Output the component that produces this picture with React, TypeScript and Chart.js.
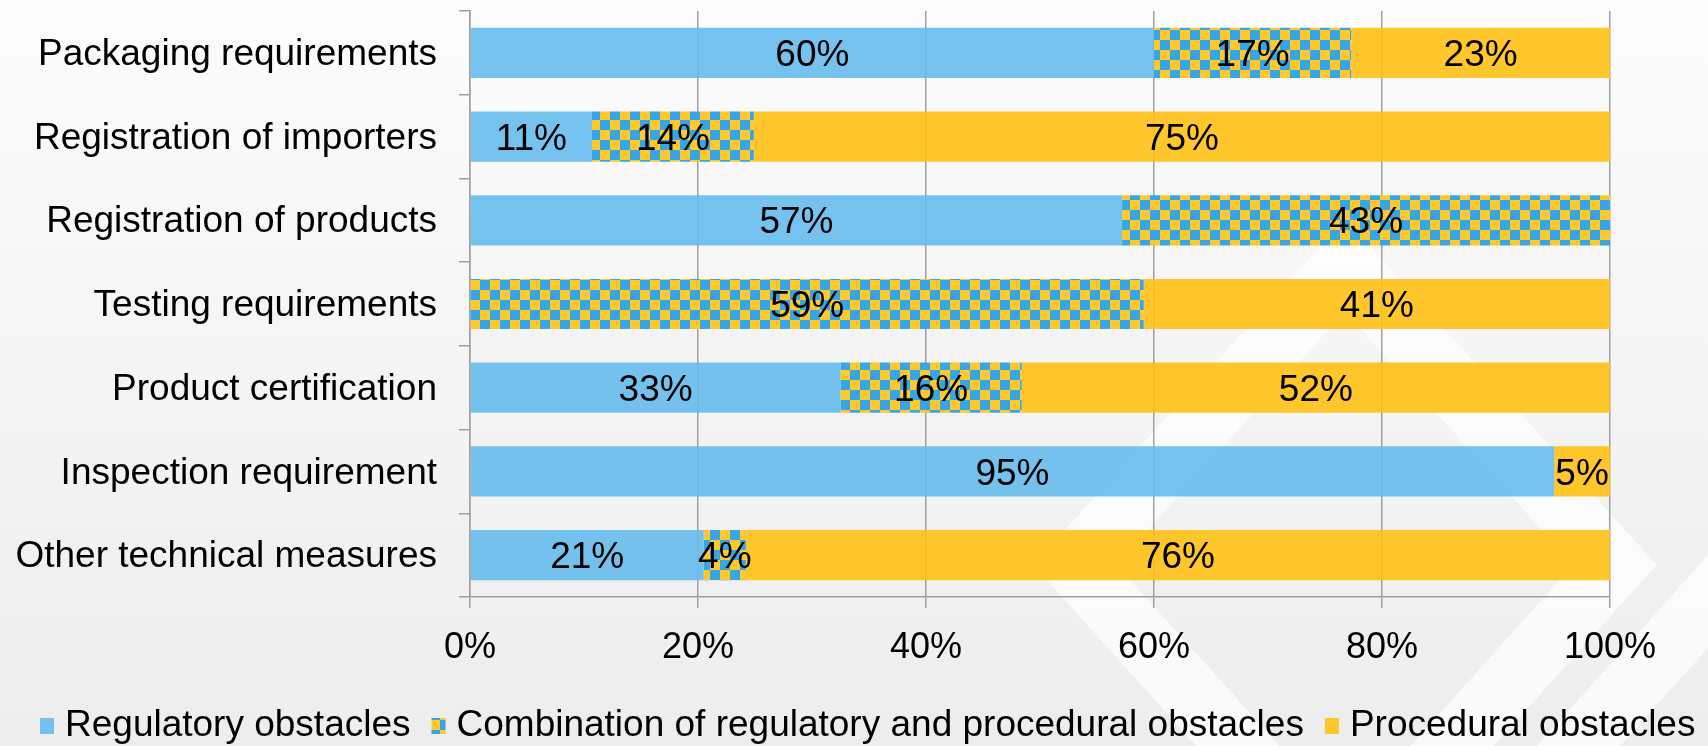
import React, { useEffect, useRef } from 'react';
import { Chart, registerables } from 'chart.js';

Chart.register(...registerables);

// ---- data ----
const categories = [
  'Packaging requirements',
  'Registration of importers',
  'Registration of products',
  'Testing requirements',
  'Product certification',
  'Inspection requirement',
  'Other technical measures',
];
const seriesNames = [
  'Regulatory obstacles',
  'Combination of regulatory and procedural obstacles',
  'Procedural obstacles',
];
const regulatory = [60.0, 10.7, 57.2, 0, 32.5, 95.1, 20.5];
const combination = [17.3, 14.2, 42.8, 59.1, 15.9, 0, 3.7];
const procedural = [22.7, 75.1, 0, 40.9, 51.6, 4.9, 75.8];
const xTickValues = [0, 20, 40, 60, 80, 100];

// ---- style ----
const FONT = 'Liberation Sans, Arial, sans-serif';
const BLUE = 'rgba(102,187,236,0.9)';
const YELLOW = 'rgba(255,193,21,0.9)';
const CHECK_BLUE = '#37A6E6';
const CHECK_YELLOW = '#FFC82C';
const AXIS_GRAY = '#A0A0A0';
const CELL = 10;

const backgroundPlugin = {
  id: 'bgPlugin',
  beforeDraw(chart: any) {
    const { ctx, width, height } = chart;
    ctx.save();
    const g = ctx.createLinearGradient(0, 0, 0, height);
    g.addColorStop(0, '#FCFCFC');
    g.addColorStop(1, '#EDEDED');
    ctx.fillStyle = g;
    ctx.fillRect(0, 0, width, height);
    // faint watermark diamonds
    ctx.strokeStyle = 'rgba(255,255,255,0.7)';
    ctx.lineWidth = 62;
    const diamonds = [
      [1345, 565, 270, 300],
      [1790, 800, 260, 290],
    ];
    diamonds.forEach(([cx, cy, rx, ry]) => {
      ctx.beginPath();
      ctx.moveTo(cx, cy - ry);
      ctx.lineTo(cx + rx, cy);
      ctx.lineTo(cx, cy + ry);
      ctx.lineTo(cx - rx, cy);
      ctx.closePath();
      ctx.stroke();
    });
    ctx.restore();
  },
};

const dataLabelPlugin = {
  id: 'dataLabels',
  afterDatasetsDraw(chart: any) {
    const { ctx } = chart;
    ctx.save();
    ctx.font = `37px ${FONT}`;
    ctx.fillStyle = '#000';
    ctx.textAlign = 'center';
    ctx.textBaseline = 'middle';
    chart.data.datasets.forEach((ds: any, i: number) => {
      const meta = chart.getDatasetMeta(i);
      meta.data.forEach((el: any, j: number) => {
        const v = ds.data[j];
        if (!v) return;
        const p = el.getProps(['x', 'y', 'base'], true);
        ctx.fillText(`${Math.round(v)}%`, (p.x + p.base) / 2, p.y + 3);
      });
    });
    ctx.restore();
  },
};

const legendPlugin = {
  id: 'customLegend',
  afterDraw(chart: any) {
    const { ctx } = chart;
    ctx.save();
    ctx.font = `37px ${FONT}`;
    ctx.textBaseline = 'middle';
    ctx.textAlign = 'left';
    const cy = 726;
    const boxW = 14;
    const boxH = 16;
    const gapBox = 11;
    const gapItem = 21;
    let x = 40;
    chart.data.datasets.forEach((ds: any) => {
      ctx.fillStyle = ds.backgroundColor;
      ctx.fillRect(x, cy - boxH / 2, boxW, boxH);
      x += boxW + gapBox;
      ctx.fillStyle = '#000';
      ctx.fillText(ds.label, x, cy);
      x += ctx.measureText(ds.label).width + gapItem;
    });
    ctx.restore();
  },
};

export default function App() {
  const ref = useRef<HTMLCanvasElement>(null);

  useEffect(() => {
    const canvas = ref.current!;
    const off = document.createElement('canvas');
    off.width = CELL * 2;
    off.height = CELL * 2;
    const octx = off.getContext('2d')!;
    octx.fillStyle = CHECK_YELLOW;
    octx.fillRect(0, 0, CELL * 2, CELL * 2);
    octx.fillStyle = CHECK_BLUE;
    octx.fillRect(0, 0, CELL, CELL);
    octx.fillRect(CELL, CELL, CELL, CELL);
    const pattern = canvas.getContext('2d')!.createPattern(off, 'repeat')!;

    const chart = new Chart(canvas, {
      type: 'bar',
      data: {
        labels: categories,
        datasets: [
          { label: seriesNames[0], data: regulatory, backgroundColor: BLUE },
          { label: seriesNames[1], data: combination, backgroundColor: pattern as any },
          { label: seriesNames[2], data: procedural, backgroundColor: YELLOW },
        ],
      },
      options: {
        indexAxis: 'y',
        responsive: false,
        animation: false,
        devicePixelRatio: 1,
        events: [],
        datasets: { bar: { categoryPercentage: 1, barPercentage: 0.6, borderWidth: 0 } },
        layout: { padding: { top: 11, right: 98, bottom: 64, left: 0 } },
        plugins: {
          legend: { display: false },
          tooltip: { enabled: false },
        },
        scales: {
          x: {
            stacked: true,
            min: 0,
            max: 100,
            afterBuildTicks: (s: any) => {
              s.ticks = xTickValues.map((v) => ({ value: v }));
            },
            afterFit: (s: any) => {
              s.height = 85;
              s.paddingLeft = 0;
              s.paddingRight = 0;
            },
            ticks: {
              callback: (v: any) => `${v}%`,
              font: { family: FONT, size: 36 },
              color: '#000',
              padding: 18,
              maxRotation: 0,
            },
            grid: { color: AXIS_GRAY, lineWidth: 1.5, tickLength: 11, drawTicks: true },
            border: { color: AXIS_GRAY, width: 1.5 },
          },
          y: {
            stacked: true,
            afterFit: (s: any) => {
              s.width = 470;
              s.paddingTop = 0;
              s.paddingBottom = 0;
            },
            ticks: {
              font: { family: FONT, size: 37 },
              color: '#000',
              padding: 22,
              labelOffset: 2,
              autoSkip: false,
            },
            grid: { drawOnChartArea: false, color: AXIS_GRAY, lineWidth: 1.5, tickLength: 11 },
            border: { color: AXIS_GRAY, width: 1.5 },
          },
        },
      },
      plugins: [backgroundPlugin, dataLabelPlugin, legendPlugin],
    });
    return () => chart.destroy();
  }, []);

  return (
    <div style={{ position: 'fixed', left: 0, top: 0, width: 1708, height: 746 }}>
      <canvas ref={ref} width={1708} height={746} style={{ display: 'block', width: 1708, height: 746 }} />
    </div>
  );
}
